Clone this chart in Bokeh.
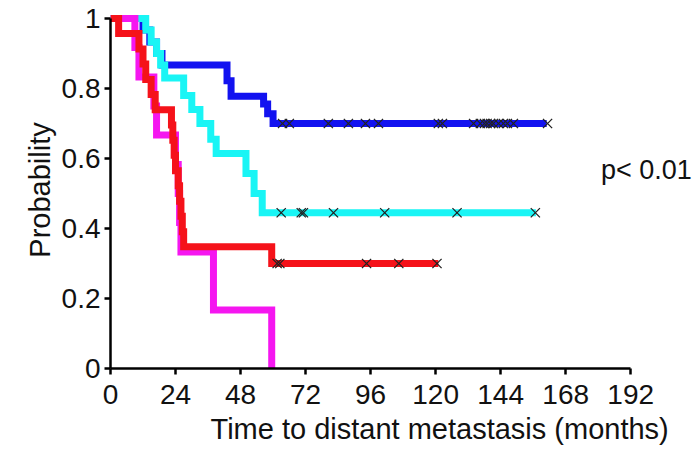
from bokeh.plotting import figure
from bokeh.models import Range1d, FixedTicker, Title, Label
from bokeh.embed import file_html
from bokeh.resources import INLINE

# ---- data ----
x_ticks = [0, 24, 48, 72, 96, 120, 144, 168, 192]
x_tick_labels = ["0", "24", "48", "72", "96", "120", "144", "168", "192"]
y_ticks = [0, 0.2, 0.4, 0.6, 0.8, 1.0]
y_tick_labels = ["0", "0.2", "0.4", "0.6", "0.8", "1"]

blue_t = [0, 12, 14.5, 17, 19, 43, 44.5, 56.5, 58, 60, 161]
blue_s = [1.0, 0.967, 0.933, 0.90, 0.867, 0.822, 0.778, 0.756, 0.728, 0.70, 0.70]
blue_cens_t = [63.5, 66, 80.4, 87.8, 94.1, 98.9, 121, 122.5, 134, 136.5, 138,
               139, 140.3, 141.3, 143.2, 145, 146.5, 148.7, 161.3]
blue_cens_s = [0.70] * len(blue_cens_t)

cyan_t = [0, 13, 15, 17, 18.5, 20, 27, 30, 33, 37, 39, 50, 53, 56, 157]
cyan_s = [1.0, 0.967, 0.933, 0.90, 0.867, 0.83, 0.78, 0.74, 0.70, 0.655, 0.614,
          0.557, 0.50, 0.445, 0.445]
cyan_cens_t = [63, 70.4, 71.2, 82.3, 101.2, 127.9, 156.8]
cyan_cens_s = [0.445] * len(cyan_cens_t)

red_t = [0, 3, 10.5, 12, 13, 15, 16.5, 22.5, 23, 23.5, 24, 25, 25.5, 26, 26.5, 27,
         59.5, 121]
red_s = [1.0, 0.957, 0.913, 0.870, 0.826, 0.783, 0.739, 0.696, 0.652, 0.609, 0.565,
         0.522, 0.478, 0.435, 0.391, 0.348, 0.30, 0.30]
red_cens_t = [61.5, 62.5, 94.5, 106.4, 120.5]
red_cens_s = [0.30] * len(red_cens_t)

mag_t = [0, 9, 10.5, 16, 17, 24, 25, 25.5, 26, 38, 59.5]
mag_s = [1.0, 0.917, 0.833, 0.75, 0.667, 0.583, 0.50, 0.417, 0.333, 0.167, 0.0]

p_text = "p< 0.01"
x_title = "Time to distant metastasis (months)"
y_title = "Probability"

FONT = "Liberation Sans"
FS_TICK = "28px"
FS_TITLE = "29px"

p = figure(width=692, height=450, output_backend="svg", toolbar_location=None,
           x_range=Range1d(0, 214.8), y_range=Range1d(0, 1.02),
           min_border_left=110, min_border_right=0, min_border_top=11,
           min_border_bottom=82)
p.outline_line_color = None
p.grid.visible = False
p.background_fill_color = "white"
p.border_fill_color = "white"

for ax in (p.xaxis[0], p.yaxis[0]):
    ax.axis_line_width = 2.5
    ax.axis_line_color = "black"
    ax.major_tick_line_width = 2.5
    ax.major_tick_line_color = "black"
    ax.major_tick_out = 6
    ax.major_tick_in = 0
    ax.minor_tick_line_color = None
    ax.major_label_text_font = FONT
    ax.major_label_text_font_size = FS_TICK
    ax.major_label_text_color = "#111111"
    ax.major_label_standoff = 4

p.xaxis[0].major_label_standoff = 10
p.xaxis[0].ticker = FixedTicker(ticks=x_ticks)
p.xaxis[0].major_label_overrides = dict(zip(x_ticks, x_tick_labels))
p.xaxis[0].bounds = (0, 192)
p.yaxis[0].ticker = FixedTicker(ticks=y_ticks)
p.yaxis[0].major_label_overrides = dict(zip(y_ticks, y_tick_labels))
p.yaxis[0].bounds = (0, 1)

LW = 7
p.step(blue_t, blue_s, mode="after", line_color="#1212F0", line_width=LW, line_join="miter")
p.step(cyan_t, cyan_s, mode="after", line_color="#19F5F5", line_width=LW, line_join="miter")
p.step(mag_t, mag_s, mode="after", line_color="#F516F0", line_width=LW, line_join="miter")
p.step(red_t, red_s, mode="after", line_color="#F5121A", line_width=LW, line_join="miter")

for ct, cs in ((blue_cens_t, blue_cens_s), (cyan_cens_t, cyan_cens_s),
               (red_cens_t, red_cens_s)):
    p.scatter(ct, cs, marker="x", size=13, line_color="#222222", line_width=1.3)

p.add_layout(Label(x=181, y=0.566, text=p_text, text_font=FONT, text_font_size="27px",
                   text_baseline="middle", text_align="left", text_color="#111111"))

xt = Title(text=x_title, align="left", offset=100, text_font=FONT,
           text_font_size=FS_TITLE, text_font_style="normal", text_color="#111111",
           standoff=9)
p.add_layout(xt, "below")
yt = Title(text=y_title, align="center", text_font=FONT,
           text_font_size=FS_TITLE, text_font_style="normal", text_color="#111111",
           standoff=6)
p.add_layout(yt, "left")

open("out.html", "w").write(file_html(p, INLINE))
